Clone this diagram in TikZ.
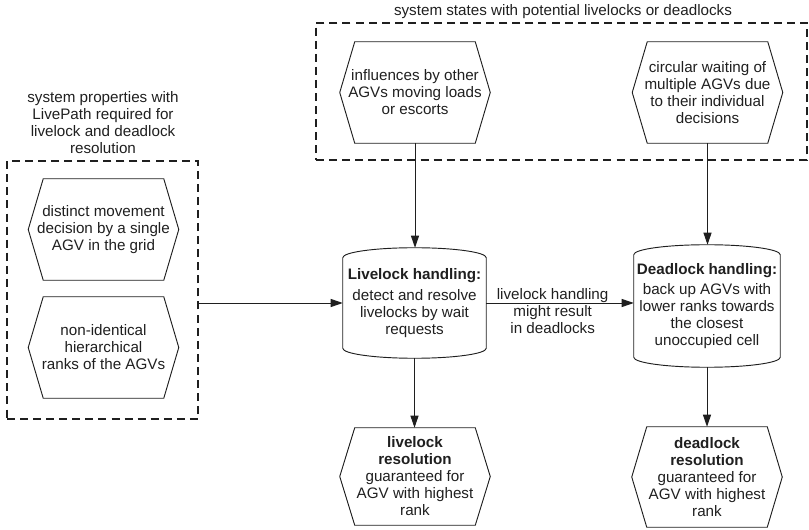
\documentclass[tikz,border=0pt]{standalone}
\usepackage{fontspec}
\setmainfont{Liberation Sans}
\usetikzlibrary{arrows.meta}
\usetikzlibrary{calc}
\definecolor{ink}{gray}{0.12}
\tikzset{hexbox/.style={rectangle, align=center, inner sep=0pt, minimum width=150*0.75pt, minimum height=#1*0.75pt},
%default height in pixels of the reference
hexbox/.default={101},
handling/.style={rectangle, align=center, inner sep=1pt},
outline/.style={draw=ink, line width=0.7pt, line join=miter},
groupbox/.style={draw=ink, line width=1.2pt, dash pattern=on 6pt off 3.8pt},
flow/.style={draw=ink, line width=0.7pt, -{Triangle[length=9pt,width=6pt]}}}

\begin{document}
\begin{tikzpicture}[x=0.75pt,y=-0.75pt,font=\fontsize{11.4}{12.75}\selectfont,text=ink]
\useasboundingbox (0,0) rectangle (809,530);
% dashed groups
\node (states) [groupbox, minimum width=491*0.75pt, minimum height=137*0.75pt] at (561.5,91.5) {};
\node (statestitle) at (563,12) {system states with potential livelocks or deadlocks};
\node (props) [groupbox, minimum width=191*0.75pt, minimum height=258*0.75pt] at (102.5,290) {};
\node (propstitle) [align=center] at (103,123) {system properties with\\LivePath required for\\livelock and deadlock\\resolution};

% inputs
\node (influence) [hexbox] at (415,92.5) {influences by other\\AGVs moving loads\\or escorts};
\node (circular) [hexbox] at (707.5,92.5) {circular waiting of\\multiple AGVs due\\to their individual\\decisions};
\node (movement) [hexbox] at (103.5,229.5) {distinct movement\\decision by a single\\AGV in the grid};
\node (ranks) [hexbox] at (103.5,347.5) {non-identical\\hierarchical\\ranks of the AGVs};

% handling
\node (livelock) [handling, minimum width=143*0.75pt, minimum height=110*0.75pt] at (414.5,303) {\textbf{Livelock handling:}\\[3pt]detect and resolve\\livelocks by wait\\requests};
\node (deadlock) [handling, minimum width=146*0.75pt, minimum height=122*0.75pt] at (707,306) {\textbf{Deadlock handling:}\\[2pt]back up AGVs with\\lower ranks towards\\the closest\\unoccupied cell};
\foreach \h in {livelock,deadlock}
  \draw[outline] let \p1=(\h.north west), \p2=(\h.north east) in
    ([yshift=-7.5pt]\h.north west) arc[start angle=180, end angle=0, x radius={(\x2-\x1)/2}, y radius=7.5pt]
    -- ([yshift=7.5pt]\h.south east) arc[start angle=0, end angle=-180, x radius={(\x2-\x1)/2}, y radius=7.5pt] -- cycle;

% results
\node (liveres) [hexbox=97] at (415,476.5) {\textbf{livelock}\\\textbf{resolution}\\guaranteed for\\AGV with highest\\rank};
\node (deadres) [hexbox=100] at (707,477) {\textbf{deadlock}\\\textbf{resolution}\\guaranteed for\\AGV with highest\\rank};

% hexagon outlines
\foreach \h in {influence,circular,movement,ranks,liveres,deadres}
  \draw[outline] (\h.west) -- ([xshift=11.25pt]\h.north west) -- ([xshift=-11.25pt]\h.north east)
    -- (\h.east) -- ([xshift=-11.25pt]\h.south east) -- ([xshift=11.25pt]\h.south west) -- cycle;

% arrows
\foreach \a/\b in {influence/livelock, circular/deadlock, livelock/liveres, deadlock/deadres}
  \draw[flow] (\a.south) -- (\a.south |- \b.north);
\draw[flow] (props.east |- livelock.west) -- (livelock.west);
\draw[flow] (livelock.east) -- (livelock.east -| deadlock.west) node[pos=0.45, yshift=-6pt, align=center] (edgenote) {livelock handling\\might result\\in deadlocks};
\end{tikzpicture}
\end{document}
